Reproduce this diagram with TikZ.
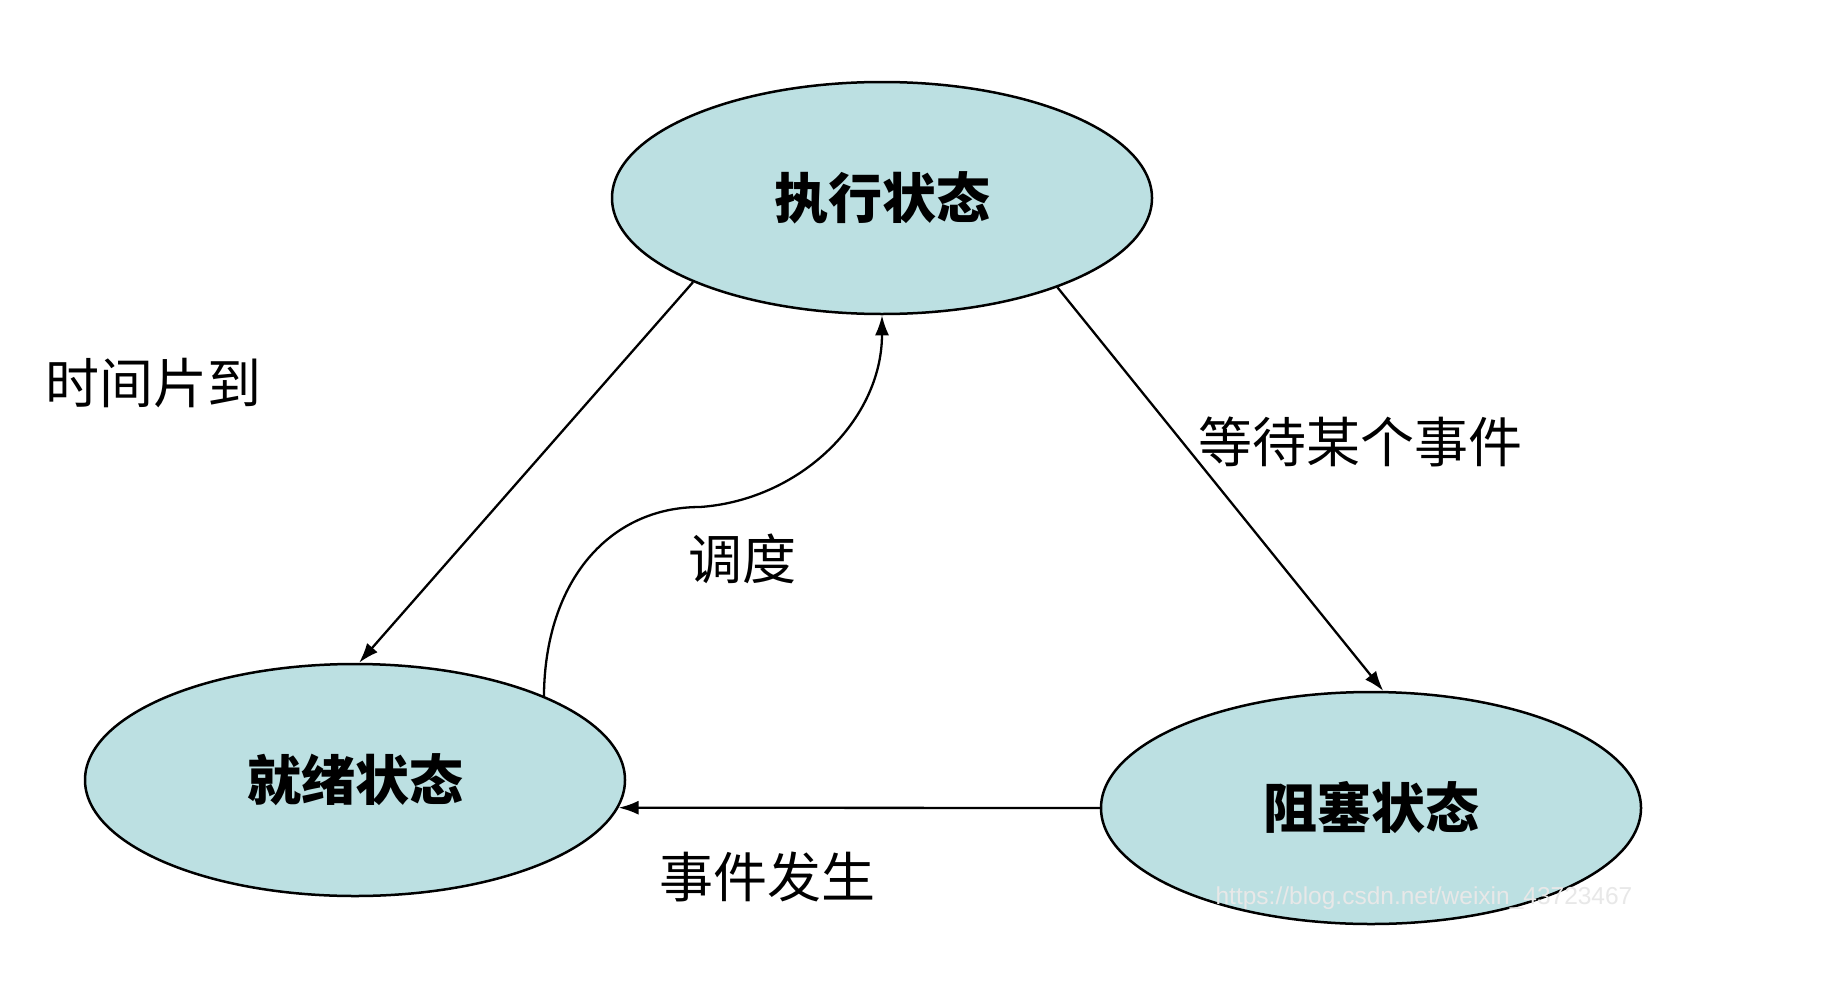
\documentclass[tikz,border=0pt]{standalone}
\usepackage{fontspec}
\setmainfont{Liberation Sans}
\newfontfamily\cjk{Noto Sans CJK SC}
\usetikzlibrary{shapes.geometric,arrows.meta}
\definecolor{stfill}{RGB}{188,224,226}
\begin{document}
\begin{tikzpicture}[x=1pt,y=-1pt,
  state/.style={ellipse,draw=black,line width=2.5pt,fill=stfill,minimum width=540pt,minimum height=232pt,inner sep=0pt,font=\cjk\bfseries\fontsize{54}{62}\selectfont},
  lbl/.style={font=\cjk\fontsize{54}{62}\selectfont,inner sep=0pt},
  conn/.style={line width=2.3pt,-{Latex[length=20pt,width=14pt]}}]
\useasboundingbox (0,0) rectangle (1838,982);
\fill[white] (0,0) rectangle (1838,982);
\node[state] (run) at (882,198) {执行状态};
\node[state] (ready) at (355,780) {就绪状态};
\node[state] (block) at (1371,808) {阻塞状态};
\draw[conn] (run.204) -- (ready.88);
\draw[conn] (run.333) -- (block.84);
\draw[conn] (block.west) -- (ready.-6);
\draw[conn] (ready.24) .. controls (545,580) and (610,507) .. (700,507)
  .. controls (800,500) and (882,420) .. (run.south);
\node[lbl] (l1) at (153,383) {时间片到};
\node[lbl] (l2) at (1360,442) {等待某个事件};
\node[lbl] (l3) at (742,559) {调度};
\node[lbl] (l4) at (767,877) {事件发生};
\node[font=\fontsize{24.5}{28}\selectfont,text=white!82!gray,inner sep=0pt] (wm) at (1424,898) {https://blog.csdn.net/weixin\_43723467};
\end{tikzpicture}
\end{document}
